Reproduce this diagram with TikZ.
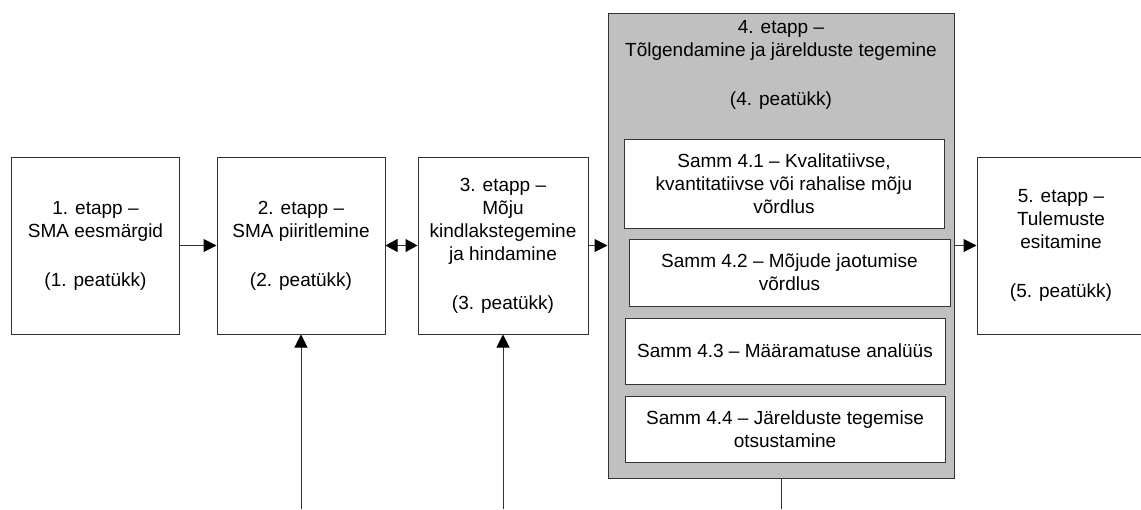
\documentclass[tikz,border=0pt]{standalone}
\usepackage{fontspec}
\setmainfont{Liberation Sans}
\usetikzlibrary{arrows.meta,positioning}
\definecolor{panelgray}{RGB}{192,192,192}

\begin{document}
\begin{tikzpicture}[x=0.5pt,y=-0.5pt,
every node/.style={draw=black!80,line width=0.5pt,fill=white,inner sep=2pt,font=\fontsize{9.5}{11.5}\selectfont,align=center},
stage/.style={minimum width=84pt,minimum height=88.5pt},
substep/.style={minimum width=160pt},
link/.style={draw=black!80,line width=0.5pt,-{Triangle[length=6.5pt,width=6.5pt,color=black]}},
dlink/.style={draw=black!80,line width=0.5pt,{Triangle[length=6pt,width=6.5pt,color=black]}-{Triangle[length=6pt,width=6.5pt,color=black]}}]
\clip (0,0) rectangle (1141,509);
% etapid
\node[stage] (etapp1) at (95.5,245.5) {1. etapp --\\SMA eesmärgid\\[13pt](1. peatükk)};
\node[stage] (etapp2) at (301,245.5) {2. etapp --\\SMA piiritlemine\\[13pt](2. peatükk)};
\node[stage,minimum width=85pt] (etapp3) at (503,245.5) {3. etapp --\\Mõju\\kindlakstegemine\\ja hindamine\\[13pt](3. peatükk)};
\node[minimum width=173pt,minimum height=232.5pt,fill=panelgray] (etapp4) at (781,245.5) {};
\node[draw=none,fill=none,anchor=north,inner sep=0pt] (title4) at ([yshift=-3.5pt]etapp4.north) {4. etapp --\\Tõlgendamine ja järelduste tegemine\\[13pt](4. peatükk)};
\node[stage] (etapp5) at (1061,245.5) {5. etapp --\\Tulemuste\\esitamine\\[13pt](5. peatükk)};
% sammud
\node[substep,minimum height=44.5pt] (samm41) at (784,183.5) {Samm 4.1 -- Kvalitatiivse,\\kvantitatiivse või rahalise mõju\\võrdlus};
\node[substep,minimum width=160.5pt,minimum height=33.5pt] (samm42) at (789.5,272.5) {Samm 4.2 -- Mõjude jaotumise\\võrdlus};
\node[substep,minimum height=33pt] (samm43) at (785,351) {Samm 4.3 -- Määramatuse analüüs};
\node[substep,minimum height=33pt] (samm44) at (785,429) {Samm 4.4 -- Järelduste tegemise\\otsustamine};
% seosed
\draw[link] (etapp1) -- (etapp2);
\draw[dlink] (etapp2) -- (etapp3);
\draw[link] (etapp3) -- (etapp4);
\draw[link] (etapp4) -- (etapp5);
\coordinate (feed2) at (301,509);
\coordinate (feed3) at (503,509);
\coordinate (out4) at (etapp4.south |- 0,509);
\draw[link] (feed2) -- (etapp2);
\draw[link] (feed3) -- (etapp3);
\draw[draw=black!80,line width=0.5pt] (etapp4.south) -- (out4);
\end{tikzpicture}
\end{document}
